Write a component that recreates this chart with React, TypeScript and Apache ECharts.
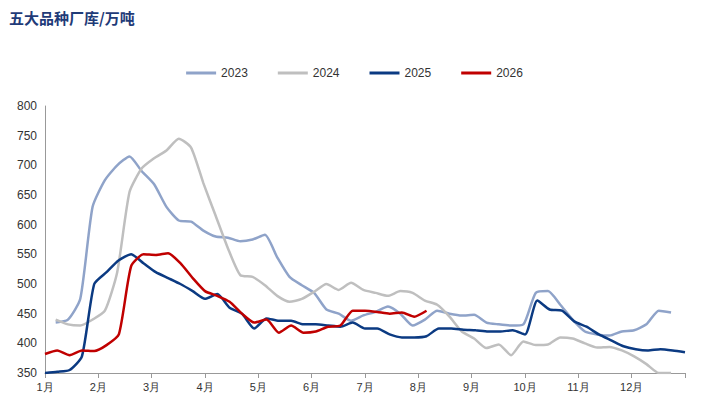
import React, { useEffect, useRef } from "react";
import * as echarts from "echarts";

const months = ["1月","2月","3月","4月","5月","6月","7月","8月","9月","10月","11月","12月"];
const s2023 = [435,440,475,630,675,700,715,690,668,630,607,605,590,580,578,572,575,583,545,512,498,485,457,450,438,447,453,462,450,430,440,455,450,447,448,435,432,430,432,485,488,465,440,420,415,413,420,422,432,455,452];
const s2024 = [440,432,430,440,455,520,655,695,712,725,745,730,670,615,560,515,512,498,480,470,475,487,500,490,502,490,485,480,488,485,472,465,445,420,408,392,398,380,403,397,398,410,408,400,393,394,388,378,365,350,350];
const s2025 = [350,352,355,378,500,520,540,550,535,520,510,500,488,475,483,460,450,425,442,438,438,432,432,430,428,435,425,425,415,410,410,412,425,425,423,422,420,420,422,415,472,457,455,437,428,415,405,395,390,388,390,388,385];
const s2026 = [382,388,380,388,387,397,415,530,550,549,552,535,510,488,480,470,450,435,440,418,430,418,420,428,430,455,455,453,450,452,445,455];

const toPts = (arr: number[], off: number) => arr.map((v, i) => [off + (i * 12) / 52, v]);

export default function App() {
  const ref = useRef<HTMLDivElement>(null);
  useEffect(() => {
    const chart = echarts.init(ref.current!, null, { renderer: "svg" });
    const mk = (name: string, data: number[], color: string, off: number) => ({
      name, type: "line", data: toPts(data, off), showSymbol: false, smooth: 0.2,
      lineStyle: { color, width: 2.5 }, itemStyle: { color },
    });
    chart.setOption({
      animation: false,
      title: { text: "五大品种厂库/万吨", left: 4, top: 5, textStyle: { color: "#1F3B78", fontSize: 15, fontWeight: "bold", fontFamily: "Noto Sans CJK SC" } },
      legend: { top: 62, left: "center", itemWidth: 30, itemGap: 30, icon: "rect", itemHeight: 3, textStyle: { fontSize: 12, color: "#333" } },
      grid: { left: 45, right: 24, top: 106, bottom: 40 },
      xAxis: {
        type: "value", min: 0, max: 12, interval: 1,
        axisLine: { lineStyle: { color: "#999" } }, axisTick: { show: true, lineStyle: { color: "#999" } },
        splitLine: { show: false },
        axisLabel: { color: "#333", fontSize: 11, formatter: (v: number) => months[v] ?? "" },
      },
      yAxis: {
        type: "value", min: 350, max: 800, interval: 50,
        axisLine: { show: true, lineStyle: { color: "#999" } }, axisTick: { show: false },
        splitLine: { show: false }, axisLabel: { color: "#333", fontSize: 12 },
      },
      series: [
        mk("2023", s2023, "#8FA3C9", 0.2),
        mk("2024", s2024, "#BFBFBF", 0.2),
        mk("2025", s2025, "#0B3A82", 0),
        mk("2026", s2026, "#C00000", 0),
      ],
    });
    return () => chart.dispose();
  }, []);
  return <div ref={ref} style={{ position: "fixed", left: 0, top: 0, width: 709, height: 413, background: "#fff" }} />;
}
